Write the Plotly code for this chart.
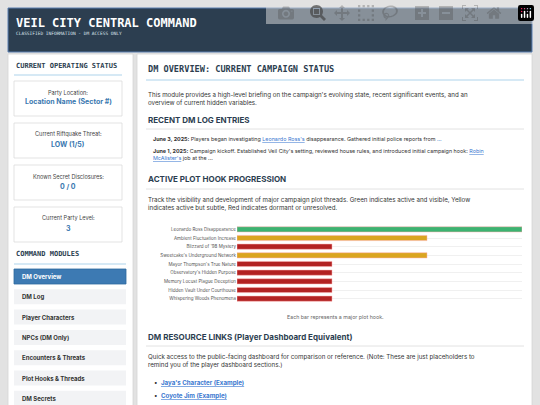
import plotly.graph_objects as go

hooks = ["Leonardo Ross Disappearance", "Ambient Fluctuation Increase", "Blizzard of '98 Mystery",
         "Sweetcake's Underground Network", "Mayor Thompson's True Nature", "Observatory's Hidden Purpose",
         "Memory Locust Plague Deception", "Hidden Vault Under Courthouse", "Whispering Woods Phenomena"]
levels = [3, 2, 1, 2, 1, 1, 1, 1, 1]
status = ["green", "yellow", "red", "yellow", "red", "red", "red", "red", "red"]
status_colors = {"green": "#3cb371", "yellow": "#daa520", "red": "#b22222"}
stat_labels = ["Party Location:", "Current Riftquake Threat:", "Known Secret Disclosures:", "Current Party Level:"]
stat_values = ["Location Name (Sector #)", "LOW (1/5)", "0 / 0", "3"]
modules = ["DM Overview", "DM Log", "Player Characters", "NPCs (DM Only)", "Encounters & Threats",
           "Plot Hooks & Threads", "DM Secrets"]

W, H = 540, 405
def X(p): return p / W
def Y(p): return 1 - p / H

fig = go.Figure()
fig.add_trace(go.Bar(y=hooks, x=levels, orientation="h",
                     marker=dict(color=[status_colors[s] for s in status],
                                 line=dict(color="#ffb0b0", width=0.5)),
                     width=0.6, hoverinfo="skip"))

shapes, ann = [], []
def rect(x0, y0, x1, y1, fill, line=None, lw=0.8):
    shapes.append(dict(type="rect", xref="paper", yref="paper", x0=X(x0), x1=X(x1), y0=Y(y1), y1=Y(y0),
                       fillcolor=fill, line=dict(color=line or fill, width=lw if line else 0), layer="below"))
def hline(x0, x1, y, color="#c9e2f2", w=1.5):
    shapes.append(dict(type="line", xref="paper", yref="paper", x0=X(x0), x1=X(x1), y0=Y(y), y1=Y(y),
                       line=dict(color=color, width=w), layer="below"))
def txt(x, y, s, size=7, color="#333", family="Inter", xa="left"):
    ann.append(dict(x=X(x), y=Y(y), xref="paper", yref="paper", text=s, showarrow=False, xanchor=xa,
                    yanchor="middle", align=xa, font=dict(size=size, color=color, family=family)))

MONO = "DejaVu Sans Mono"
rect(8, 8, 532, 52, "#2c3e50", "#5b7fb0", 1)
txt(14, 23, "<b>VEIL CITY CENTRAL COMMAND</b>", 12, "white", MONO)
txt(14, 34, "CLASSIFIED INFORMATION - DM ACCESS ONLY", 4.5, "#dfe6ee", MONO)

rect(8, 54, 133, 410, "white", "#d5d5d5")
rect(137, 54, 532, 410, "white", "#d5d5d5")

txt(14, 66, "<b>CURRENT OPERATING STATUS</b>", 7, "#2c3e50", MONO)
hline(14, 122, 75)
tops = [81, 123, 165, 207]
for t, lab, val in zip(tops, stat_labels, stat_values):
    rect(14, t, 122, t + 35, "white", "#dcdcdc")
    txt(68, t + 11, lab, 5.6, "#444", xa="center")
    txt(68, t + 21, "<b>" + val + "</b>", 7, "#3a78b0", xa="center")

txt(14, 254, "<b>COMMAND MODULES</b>", 7, "#2c3e50", MONO)
hline(14, 126, 264)
for i, m in enumerate(modules):
    t = 269 + i * 20.3
    active = i == 0
    rect(14, t, 126, t + 15, "#3d7ab3" if active else "#f2f3f5", "#2f6aa0" if active else None)
    txt(20, t + 7.5, "<b>" + m + "</b>", 6, "white" if active else "#333")

LINK = "#3a78d0"
txt(146, 69, "<b>DM OVERVIEW: CURRENT CAMPAIGN STATUS</b>", 8.6, "#2c3e50", MONO)
hline(146, 524, 80)
txt(146, 98, "This module provides a high-level briefing on the campaign's evolving state, recent significant events, and an<br>overview of current hidden variables.", 6.2, "#333")
txt(146, 120, "<b>RECENT DM LOG ENTRIES</b>", 8, "#2c3e50")
hline(146, 524, 129, "#e2e2e2", 1)
txt(151, 139, "<b>June 3, 2025:</b> Players began investigating <span style='color:%s'><u>Leonardo Ross's</u></span> disappearance. Gathered initial police reports from <span style='color:%s'>...</span>" % (LINK, LINK), 5.4, "#333")
txt(151, 155, "<b>June 1, 2025:</b> Campaign kickoff. Established Veil City's setting, reviewed house rules, and introduced initial campaign hook: <span style='color:%s'><u>Robin</u></span><br><span style='color:%s'><u>McAlister's</u></span> job at the ..." % (LINK, LINK), 5.4, "#333")
txt(146, 179, "<b>ACTIVE PLOT HOOK PROGRESSION</b>", 8, "#2c3e50")
hline(146, 524, 189, "#e2e2e2", 1)
txt(146, 204, "Track the visibility and development of major campaign plot threads. Green indicates active and visible, Yellow<br>indicates active but subtle, Red indicates dormant or unresolved.", 6.2, "#333")
txt(335, 317, "Each bar represents a major plot hook.", 5.3, "#666", xa="center")
txt(146, 337, "<b>DM RESOURCE LINKS (Player Dashboard Equivalent)</b>", 8, "#2c3e50")
hline(146, 524, 346, "#e2e2e2", 1)
txt(146, 361, "Quick access to the public-facing dashboard for comparison or reference. (Note: These are just placeholders to<br>remind you of the player dashboard sections.)", 6.2, "#333")
txt(152, 383, "•  <span style='color:%s'><u><b>Jaya's Character (Example)</b></u></span>" % LINK, 6.2, "#333")
txt(152, 396, "•  <span style='color:%s'><u><b>Coyote Jim (Example)</b></u></span>" % LINK, 6.2, "#333")

fig.update_layout(
    width=W, height=H, margin=dict(l=0, r=0, t=0, b=0), paper_bgcolor="#e2e2e2", plot_bgcolor="white",
    shapes=shapes, annotations=ann, showlegend=False, bargap=0.4,
    xaxis=dict(domain=[X(237), X(522)], range=[0, 3], visible=False),
    yaxis=dict(domain=[Y(303), Y(225)], autorange="reversed", showgrid=True, gridcolor="#f0f0f0",
               tickfont=dict(size=4.5, color="#555", family="Inter"), ticks="", automargin=False),
)
fig.write_html("out.html", post_script="document.body.style.margin='0';document.body.style.overflow='hidden';document.body.style.background='#e2e2e2';")
